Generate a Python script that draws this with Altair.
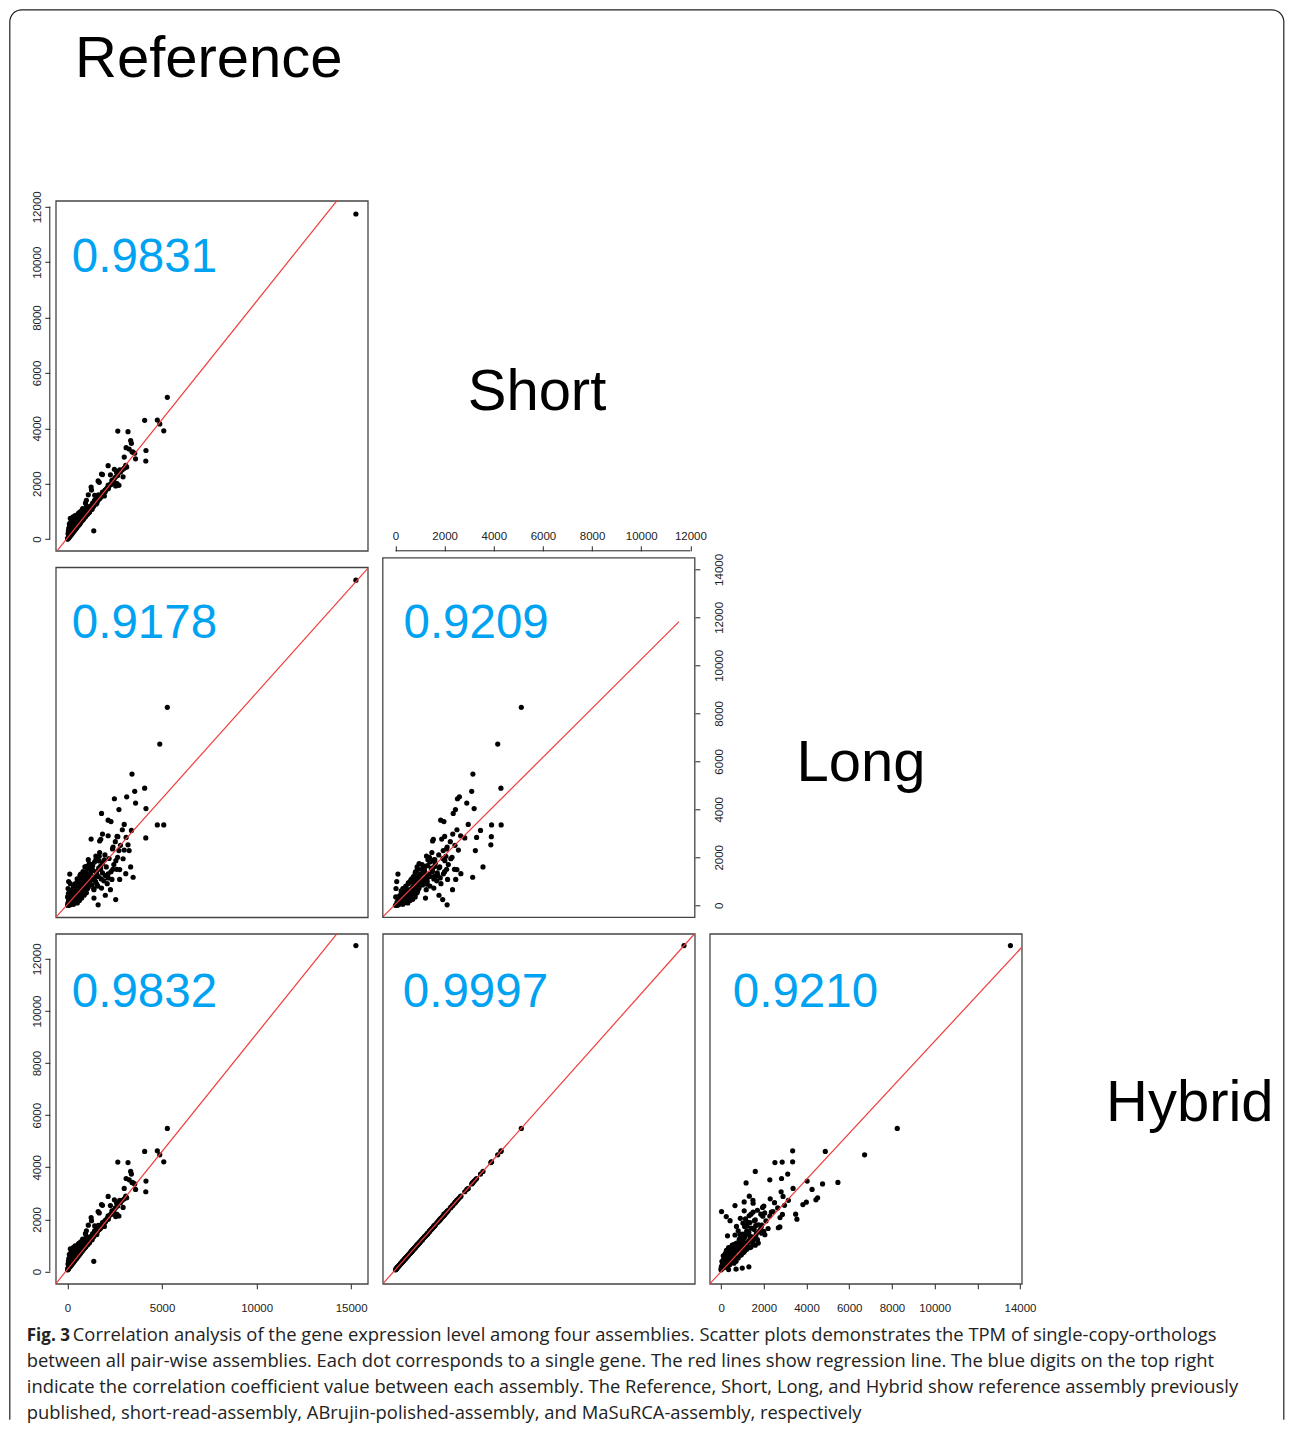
import math
import pandas as pd
import altair as alt

# ---------------- data (TPM of single-copy orthologs) ----------------
reference = [
    15250, 5280, 4880, 3410, 4080, 3555, 3130, 2480, 3600, 4150,
    1800, 2720, 4750, 5090, 3380, 4140, 1250, 1850, 2150, 2620,
    3100, 2410, 2720, 3200, 3260, 1680, 2560, 2940, 3340, 3470,
    3080, 2760, 2150, 2270, 2550, 1620, 1740, 1270, 1000, 2760,
    1850, 1440, 1390, 2660, 3000, 2150, 2300, 1500,
    20, 50, 80, 100, 130, 150, 180, 200, 230, 250,
    280, 300, 320, 350, 380, 400, 420, 450, 480, 500,
    520, 550, 580, 600, 630, 650, 680, 700, 730, 750,
    780, 800, 830, 850, 880, 900, 930, 950, 980, 1000,
    1050, 1080, 1100, 1150, 1200, 1250, 1300, 1350, 1400, 1450,
    1500, 1550, 1600, 1650, 1700, 1780, 1850, 1920, 1980, 2050,
    2100, 2200, 2300, 2380, 2450, 2530, 2650, 2800, 2900, 3000,
    100, 200, 300, 400, 150, 550, 700, 950, 1100, 50,
    60, 30, 120, 10, 5, 40, 70,
    2000, 1800, 1400, 1550, 1750, 1700, 1760,
    1150, 1300, 2400, 2350, 2150, 2000, 2600, 1950,
    60, 90, 110, 140, 160, 190, 210, 240, 260, 290,
    310, 340, 360, 390, 410, 440, 460, 490, 510, 540,
    560, 590, 610, 640, 660, 690, 720, 740, 770, 790,
    820, 840, 870, 890, 920, 960, 1020, 1060, 1120, 1170,
    1230, 1280, 1330, 1380, 1430, 1480, 1530, 1580, 1630, 1680,
    30, 70, 120, 180, 260, 330, 450, 600, 800, 1000,
]
short = [
    11740, 5120, 4160, 3150, 4290, 3100, 2600, 2520, 2900, 3200,
    2350, 2440, 4300, 3910, 3460, 2820, 1880, 2330, 2650, 2000,
    3300, 2100, 1940, 3880, 3250, 2050, 2010, 2250, 3560, 3140,
    2660, 2450, 1950, 2320, 1920, 2100, 1590, 1770, 1200, 2500,
    1700, 1580, 300, 3900, 2960, 1840, 1970, 1260,
    40, 60, 90, 120, 150, 200, 170, 260, 230, 330,
    280, 400, 300, 360, 480, 380, 560, 420, 450, 620,
    500, 530, 700, 560, 590, 780, 620, 650, 850, 680,
    700, 730, 900, 760, 780, 800, 1000, 830, 860, 880,
    920, 1100, 960, 1000, 1050, 1080, 1150, 1180, 1250, 1280,
    1320, 1360, 1400, 1450, 1480, 1560, 1620, 1680, 1760, 1800,
    1850, 1930, 2000, 2080, 2150, 2230, 2300, 2420, 2500, 2560,
    550, 650, 800, 850, 750, 900, 1000, 1300, 1600, 300,
    50, 20, 100, 0, 10, 30, 80,
    1770, 1560, 1220, 1290, 1500, 1510, 1540,
    960, 1080, 2080, 2120, 1820, 1720, 2400, 1560,
    100, 70, 160, 110, 230, 150, 300, 190, 360, 240,
    430, 280, 470, 330, 520, 370, 600, 410, 660, 460,
    720, 500, 640, 540, 830, 590, 760, 640, 900, 680,
    820, 720, 950, 770, 880, 820, 1050, 900, 1150, 990,
    1200, 1100, 1300, 1190, 1400, 1290, 1500, 1380, 1600, 1450,
    200, 400, 500, 600, 700, 750, 820, 950, 1100, 1400,
]
long_ = [
    13550, 8250, 6720, 5470, 4880, 4750, 4520, 4440, 4260, 4030,
    3830, 3990, 3350, 3350, 3120, 2810, 2760, 2970, 2900, 2870,
    2830, 2430, 2280, 2520, 2280, 2040, 1860, 1940, 1600, 1170,
    1320, 1080, 1310, 650, 240, 20, 1620, 1560, 1620, 1490,
    1350, 1210, 700, 2860, 3370, 3550, 3490, 2050,
    30, 120, 10, 250, 60, 180, 400, 90, 300, 150,
    500, 220, 40, 650, 330, 120, 470, 800, 280, 560,
    100, 950, 380, 620, 200, 700, 1050, 450, 880, 300,
    760, 1200, 600, 980, 420, 1350, 850, 700, 1100, 520,
    1500, 950, 760, 1250, 880, 1700, 1080, 1450, 650, 1180,
    1900, 1300, 800, 1550, 2200, 1100, 1750, 1020, 2100, 1600,
    900, 1950, 1400, 2350, 1700, 2650, 2000, 2500, 3150, 2300,
    200, 450, 350, 700, 900, 1000, 1300, 1150, 1900, 500,
    990, 700, 1300, 0, 350, 0, 80,
    420, 720, 300, 880, 1500, 2680, 2750,
    1740, 1500, 1500, 1080, 1140, 1240, 1500, 1890,
    200, 40, 350, 20, 600, 130, 280, 60, 420, 180,
    750, 90, 540, 220, 900, 300, 650, 160, 1100, 420,
    780, 250, 1000, 500, 1250, 340, 950, 600, 1150, 450,
    1400, 700, 1000, 580, 1600, 900, 1300, 700, 1550, 1050,
    1350, 850, 1650, 1100, 1800, 1000, 1400, 2000, 1200, 1850,
    100, 300, 150, 600, 250, 800, 500, 700, 1000, 1200,
]
hybrid = [
    12510, 5490, 4480, 3420, 4610, 3360, 2830, 2750, 3150, 3470,
    2570, 2660, 4630, 4210, 3740, 3060, 2070, 2540, 2880, 2190,
    3570, 2300, 2130, 4180, 3520, 2250, 2200, 2460, 3840, 3400,
    2890, 2670, 2140, 2530, 2110, 2300, 1760, 1950, 1350, 2730,
    1880, 1750, 390, 4200, 3190, 2010, 2200, 1410,
    110, 140, 170, 200, 230, 290, 260, 350, 320, 420,
    370, 500, 390, 460, 580, 480, 670, 520, 550, 740,
    600, 640, 820, 670, 700, 900, 730, 760, 980, 800,
    820, 850, 1030, 880, 900, 920, 1140, 960, 990, 1010,
    1050, 1240, 1090, 1130, 1190, 1220, 1300, 1330, 1400, 1430,
    1470, 1510, 1560, 1610, 1650, 1730, 1790, 1860, 1940, 1980,
    2040, 2120, 2200, 2280, 2350, 2440, 2510, 2640, 2730, 2790,
    660, 760, 920, 980, 870, 1030, 1140, 1450, 1780, 400,
    130, 90, 180, 60, 70, 100, 160,
    1950, 1730, 1370, 1420, 1660, 1680, 1710,
    1090, 1220, 2280, 2330, 2020, 1900, 2620, 1730,
    180, 150, 245, 190, 320, 235, 395, 275, 455, 330,
    530, 370, 575, 425, 625, 470, 710, 510, 775, 565,
    840, 605, 755, 650, 955, 700, 880, 755, 1030, 795,
    945, 840, 1080, 890, 1010, 945, 1190, 1030, 1295, 1125,
    1345, 1240, 1455, 1335, 1560, 1440, 1665, 1540, 1770, 1610,
    290, 500, 605, 710, 815, 870, 945, 1080, 1240, 1560,
]

variables = ["Reference", "Short", "Long", "Hybrid"]
corr_labels = ["0.9831", "0.9178", "0.9209", "0.9832", "0.9997", "0.9210"]
reg_intercept = [46, 45, 45, 87, 75.5, -3.5]
reg_slope = [0.8546, 0.8818, 1.0205, 0.904, 1.059, 0.884]

ref_ticks = [0, 5000, 10000, 15000]
short_ticks = [0, 2000, 4000, 6000, 8000, 10000, 12000]
long_ticks = [0, 2000, 4000, 6000, 8000, 10000, 12000, 14000]
hybrid_ticks = [0, 2000, 4000, 6000, 8000, 10000, 12000]

caption_bold = "Fig. 3"
caption_lines = [
    "Correlation analysis of the gene expression level among four assemblies. Scatter plots demonstrates the TPM of single-copy-orthologs",
    "between all pair-wise assemblies. Each dot corresponds to a single gene. The red lines show regression line. The blue digits on the top right",
    "indicate the correlation coefficient value between each assembly. The Reference, Short, Long, and Hybrid show reference assembly previously",
    "published, short-read-assembly, ABrujin-polished-assembly, and MaSuRCA-assembly, respectively",
]

genes = pd.DataFrame({"Reference": reference, "Short": short, "Long": long_, "Hybrid": hybrid})

# ---------------- styling ----------------
FONT = "Liberation Sans"
CAP_FONT = "Open Sans"
BLUE = "#00a2f2"
RED = "#f03c3c"
BOX = "#444444"
INK = "#222222"
W, H = 312, 350

DOM = {
    "ref": [-618, 15879],
    "short_y": [-423, 12217],
    "short_x": [-517, 12180],
    "long_y": [-500, 14088],
    "long_x": [-530, 14083],
    "hyb": [-472, 12962],
}


def make_axis(orient, values, offset, pad, hide=None):
    kw = dict(
        orient=orient, values=values, format="d", title=None, domain=False, grid=False,
        ticks=True, tickSize=5, tickColor=INK, tickWidth=1, labelFont=FONT,
        labelFontSize=11.5, labelColor=INK, labelPadding=pad, offset=offset,
        labelOverlap=False, labelFlush=False, labelBaseline="alphabetic",
        labelAlign="center",
    )
    kw["labelAngle"] = 270 if orient in ("left", "right") else 0
    if hide is not None:
        kw["labelExpr"] = f"datum.value == {hide} ? '' : datum.label"
    return alt.Axis(**kw)


def panel(df, xf, yf, xdom, ydom, idx, text_xy, xaxis=None, yaxis=None,
          x_end=None, rules=(), box_top=None):
    xs = alt.Scale(domain=xdom, nice=False, zero=False)
    ys = alt.Scale(domain=ydom, nice=False, zero=False)
    layers = [
        alt.Chart(df).mark_circle(size=27, color="black", opacity=1).encode(
            x=alt.X(f"{xf}:Q", scale=xs, axis=xaxis),
            y=alt.Y(f"{yf}:Q", scale=ys, axis=yaxis),
        )
    ]
    x0 = xdom[0]
    x1 = x_end if x_end is not None else xdom[1]
    a, b = reg_intercept[idx], reg_slope[idx]
    ldf = pd.DataFrame({"lx": [x0, x1], "ly": [a + b * x0, a + b * x1]})
    layers.append(
        alt.Chart(ldf).mark_line(color=RED, strokeWidth=1.2, clip=True).encode(
            x=alt.X("lx:Q", scale=xs, axis=xaxis),
            y=alt.Y("ly:Q", scale=ys, axis=yaxis),
        )
    )
    for kind, pos, lo, hi in rules:
        rdf = pd.DataFrame({"a": [lo], "b": [hi]})
        if kind == "y":
            layers.append(
                alt.Chart(rdf).mark_rule(color=INK, strokeWidth=1).encode(
                    x=alt.value(pos),
                    y=alt.Y("a:Q", scale=ys, axis=yaxis),
                    y2="b:Q",
                )
            )
        else:
            layers.append(
                alt.Chart(rdf).mark_rule(color=INK, strokeWidth=1).encode(
                    y=alt.value(pos),
                    x=alt.X("a:Q", scale=xs, axis=xaxis),
                    x2="b:Q",
                )
            )
    if box_top is not None:
        layers.append(
            alt.Chart(pd.DataFrame({"k": [0]})).mark_rect(
                fillOpacity=0, stroke=BOX, strokeWidth=1.3
            ).encode(x=alt.value(0), x2=alt.value(W), y=alt.value(box_top), y2=alt.value(H))
        )
    layers.append(
        alt.Chart(pd.DataFrame({"r": [corr_labels[idx]]})).mark_text(
            font=FONT, fontSize=47.5, color=BLUE, align="left", baseline="alphabetic"
        ).encode(x=alt.value(text_xy[0]), y=alt.value(text_xy[1]), text="r:N")
    )
    props = dict(width=W, height=H)
    if box_top is None:
        props["view"] = alt.ViewBackground(stroke=BOX, strokeWidth=1.3)
    return alt.layer(*layers).properties(**props)


ax_short_left = make_axis("left", short_ticks, 6, 4.3)
ax_hyb_left = make_axis("left", hybrid_ticks, 6, 4.3)
ax_short_top = make_axis("top", short_ticks, 16.5, 6)
ax_long_right = make_axis("right", long_ticks, 0, 22.3)
ax_ref_bottom = make_axis("bottom", ref_ticks, 0, 22.5)
ax_long_bottom = make_axis("bottom", long_ticks, 0, 22.5, hide=12000)

p10 = panel(genes, "Reference", "Short", DOM["ref"], DOM["short_y"], 0, (16, 71.7),
            yaxis=ax_short_left, rules=[("y", -6, short_ticks[0], short_ticks[-1])])
p20 = panel(genes, "Reference", "Long", DOM["ref"], DOM["long_y"], 1, (16, 70.8))
p21 = panel(genes.iloc[1:], "Short", "Long", DOM["short_x"], DOM["long_y"], 2, (20.7, 70.8),
            xaxis=ax_short_top, yaxis=ax_long_right, x_end=11540,
            rules=[("x", -16.5, short_ticks[0], short_ticks[-1])], box_top=-9.5)
p30 = panel(genes, "Reference", "Hybrid", DOM["ref"], DOM["hyb"], 3, (16, 73.7),
            xaxis=ax_ref_bottom, yaxis=ax_hyb_left,
            rules=[("y", -6, hybrid_ticks[0], hybrid_ticks[-1])])
p31 = panel(genes, "Short", "Hybrid", DOM["short_x"], DOM["hyb"], 4, (20, 73.7))
p32 = panel(genes, "Long", "Hybrid", DOM["long_x"], DOM["hyb"], 5, (23, 73.7),
            xaxis=ax_long_bottom)

# ---------------- decorations (labels, frame, caption) in the empty cell ----------------
OX, OY = 383, 201  # page position of this cell


def frame_df():
    r = 12
    left, top, right, bottom = 10, 10, 1284, 1420
    pts = [(left, bottom)]
    for k in range(9):
        t = math.pi + (math.pi / 2) * k / 8
        pts.append((left + r + r * math.cos(t), top + r + r * math.sin(t)))
    for k in range(9):
        t = 1.5 * math.pi + (math.pi / 2) * k / 8
        pts.append((right - r + r * math.cos(t), top + r + r * math.sin(t)))
    pts.append((right, bottom))
    return pd.DataFrame({
        "i": list(range(len(pts))),
        "fx": [p[0] - OX for p in pts],
        "fy": [p[1] - OY for p in pts],
    })


deco_layers = [
    alt.Chart(frame_df()).mark_line(color=INK, strokeWidth=1.2, strokeJoin="round").encode(
        x=alt.X("fx:Q", scale=None, axis=None),
        y=alt.Y("fy:Q", scale=None, axis=None),
        order="i:Q",
    )
]
label_pos = [(209, 76.7), (537.2, 410.7), (861.3, 781), (1190, 1121.7)]
for name, (lx, ly) in zip(variables, label_pos):
    deco_layers.append(
        alt.Chart(pd.DataFrame({"t": [name]})).mark_text(
            font=FONT, fontSize=58, color="black", align="center", baseline="alphabetic"
        ).encode(x=alt.value(lx - OX), y=alt.value(ly - OY), text="t:N")
    )

deco_layers.append(
    alt.Chart(pd.DataFrame({"t": [caption_bold]})).mark_text(
        font=CAP_FONT, fontSize=17, fontWeight="bold", color=INK, align="left",
        baseline="alphabetic"
    ).encode(x=alt.value(27 - OX), y=alt.value(1341.5 - OY), text="t:N")
)
cap_pos = [(73, 1341.5), (27, 1367.5), (27, 1393.5), (27, 1419.5)]
for line, (cx, cy) in zip(caption_lines, cap_pos):
    deco_layers.append(
        alt.Chart(pd.DataFrame({"t": [line]})).mark_text(
            font=CAP_FONT, fontSize=18.4, color=INK, align="left", baseline="alphabetic"
        ).encode(x=alt.value(cx - OX), y=alt.value(cy - OY), text="t:N")
    )

deco = alt.layer(*deco_layers).properties(width=W, height=H)


def blank():
    return alt.Chart(pd.DataFrame({"z": [0]})).mark_point(opacity=0).encode(
        x=alt.value(0), y=alt.value(0)
    ).properties(width=W, height=H)


chart = alt.concat(
    p10, deco, blank(),
    p20, p21, blank(),
    p30, p31, p32,
    columns=3,
    spacing={"row": 16.5, "column": 15},
    bounds="flush",
).properties(
    padding={"left": 0.8, "top": 0.8, "right": 0, "bottom": 0},
    background="white",
).configure_view(strokeWidth=0)

chart.save("out.html", embed_options={"renderer": "svg", "actions": False})
